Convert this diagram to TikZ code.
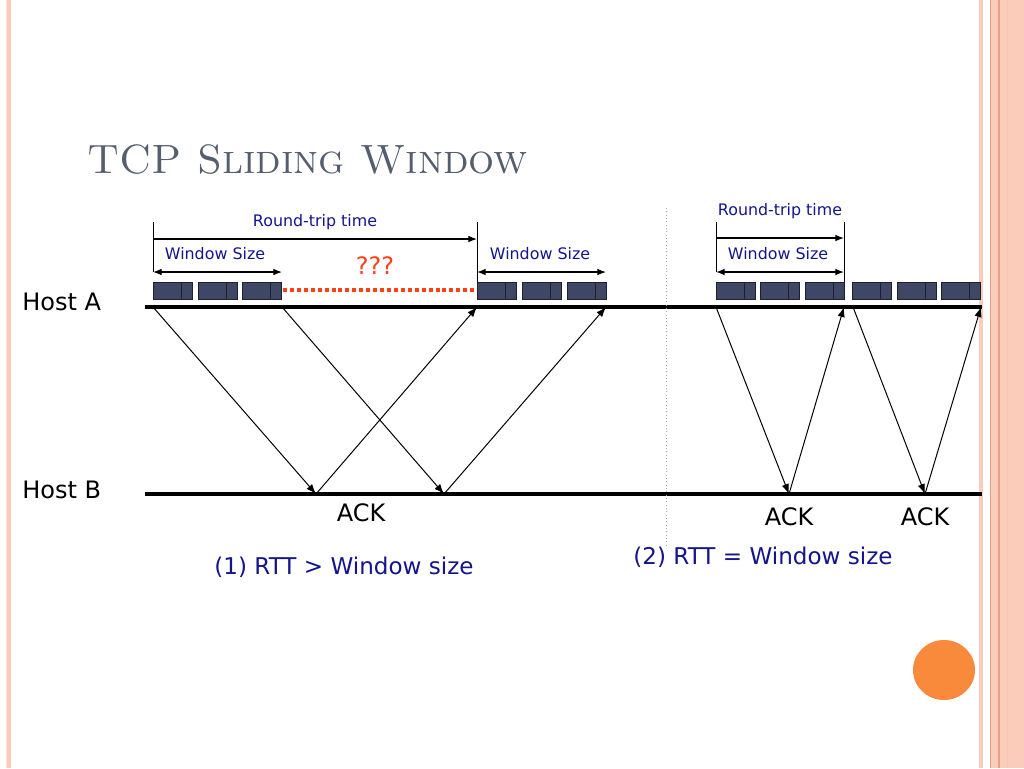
\documentclass[tikz,border=0pt]{standalone}
\usepackage{fontspec}
\usepackage{xcolor}
\usepackage{tikz}
\usetikzlibrary{arrows,arrows.meta}
\newfontfamily\handfont{DejaVu Sans}
\definecolor{navy}{RGB}{20,20,140}
\definecolor{pkt}{RGB}{62,72,100}
\definecolor{pktline}{RGB}{28,32,48}
\definecolor{dotred}{RGB}{255,64,24}
\definecolor{titlegray}{RGB}{84,94,110}
\definecolor{pinkband}{RGB}{251,204,186}
\definecolor{pinkline}{RGB}{232,160,130}
\definecolor{ball}{RGB}{249,138,60}
\tikzset{
  spantip/.tip={Latex[length=6.5pt,width=5pt]},
  host/.style={line width=3pt},
  msg/.style={line width=0.75pt,-{Latex[length=7.5pt,width=5.5pt]}},
  span/.style={line width=0.9pt},
  small/.style={font=\handfont\fontsize{11.9}{14}\selectfont,text=navy,inner sep=0pt},
  big/.style={font=\handfont\fontsize{18}{20}\selectfont,inner sep=0pt},
  caption/.style={font=\handfont\fontsize{17.3}{20}\selectfont,text=navy,inner sep=0pt}
}
\begin{document}
\begin{tikzpicture}[x=0.75pt,y=-0.75pt]
      \useasboundingbox (0,0) rectangle (1024,768);
      % slide frame
      \fill[pinkband!60] (6,0) rectangle (7,768);
      \fill[pinkband] (7,0) rectangle (11,768);
      \fill[pinkband] (979,0) rectangle (983,768);
      \fill[pinkband] (990,0) rectangle (1024,768);
      \draw[pinkline,line width=0.6pt] (990.5,0) -- (990.5,768);
      \draw[pinkline,line width=0.8pt] (999,0) -- (999,768);
      \draw[pinkline!60,line width=0.5pt] (1007,0) -- (1007,768);
      \fill[ball] (944,670) ellipse (31 and 30);

      \node[font=\fontsize{30.7}{34}\selectfont,text=titlegray,anchor=base west,inner sep=0pt]
        (title) at (87,173) {\textsc{TCP Sliding Window}};

      % hosts
      \node[big,anchor=west] (hosta) at (22,302) {Host A};
      \node[big,anchor=west] (hostb) at (22,490) {Host B};
      \coordinate (a0) at (145,307);
      \coordinate (a9) at (982,307);
      \coordinate (b0) at (145,494);
      \coordinate (b9) at (982,494);
      \draw[host] (a0) -- (a9);
      \draw[host] (b0) -- (b9);

      % separator
      \draw[black!35,dotted,line width=0.5pt] (666,208) -- (666,548);

      % packets
      \foreach \x in {153,198,242,477,522,567,716,760,805,852,897,941}{
        \filldraw[fill=pkt,draw=pktline,line width=0.6pt] (\x,282) rectangle ++(39.5,17);
        \draw[pktline,line width=0.8pt] (\x+28.5,282) -- ++(0,17);
      }
      \draw[dotred,line width=2.5pt,dash pattern=on 3pt off 2.2pt] (283,290) -- (476,290);
      \node[font=\handfont\fontsize{18}{20}\selectfont,text=dotred] (qqq) at (375,266) {???};

      % case (1)
      \coordinate (l0) at (153,222);
      \coordinate (l1) at (153,272);
      \coordinate (r0) at (477,222);
      \coordinate (r1) at (477,282);
      \draw[line width=0.6pt] (l0) -- (l1);
      \draw[line width=0.6pt] (r0) -- (r1);
      \draw[span,-spantip] (153,239) -- (477,239);
      \node[small] (rtt1) at (315,222) {Round-trip time};
      \draw[span,spantip-spantip] (153,272) -- (282,272);
      \node[small] (win1) at (215,254) {Window Size};
      \draw[span,spantip-spantip] (477,272) -- (606,272);
      \node[small] (win2) at (540,254) {Window Size};

      \coordinate (s1) at (153,307);
      \coordinate (s2) at (282,307);
      \coordinate (k1) at (316,494);
      \coordinate (k2) at (444,494);
      \coordinate (e1) at (477,307);
      \coordinate (e2) at (606,307);
      \draw[msg] (s1) -- (k1);
      \draw[msg] (k1) -- (e1);
      \draw[msg] (s2) -- (k2);
      \draw[msg] (k2) -- (e2);
      \node[big] (ack1) at (361,513) {ACK};
      \node[caption] (case1) at (344,567) {(1) RTT > Window size};

      % case (2)
      \coordinate (m0) at (716,222);
      \coordinate (m1) at (716,272);
      \coordinate (n0) at (844,222);
      \coordinate (n1) at (844,282);
      \draw[line width=0.6pt] (m0) -- (m1);
      \draw[line width=0.6pt] (n0) -- (n1);
      \draw[span,-spantip] (716,238) -- (844,238);
      \node[small] (rtt2) at (780,211) {Round-trip time};
      \draw[span,spantip-spantip] (716,272) -- (844,272);
      \node[small] (win3) at (778,254) {Window Size};

      \coordinate (t1) at (716,307);
      \coordinate (t2) at (853,307);
      \coordinate (q1) at (789,494);
      \coordinate (q2) at (925,494);
      \coordinate (u1) at (844,307);
      \coordinate (u2) at (981,307);
      \draw[msg] (t1) -- (q1);
      \draw[msg] (q1) -- (u1);
      \draw[msg] (t2) -- (q2);
      \draw[msg] (q2) -- (u2);
      \node[big] (ack2) at (789,517) {ACK};
      \node[big] (ack3) at (925,517) {ACK};
      \node[caption] (case2) at (763,557) {(2) RTT = Window size};
\end{tikzpicture}
\end{document}
